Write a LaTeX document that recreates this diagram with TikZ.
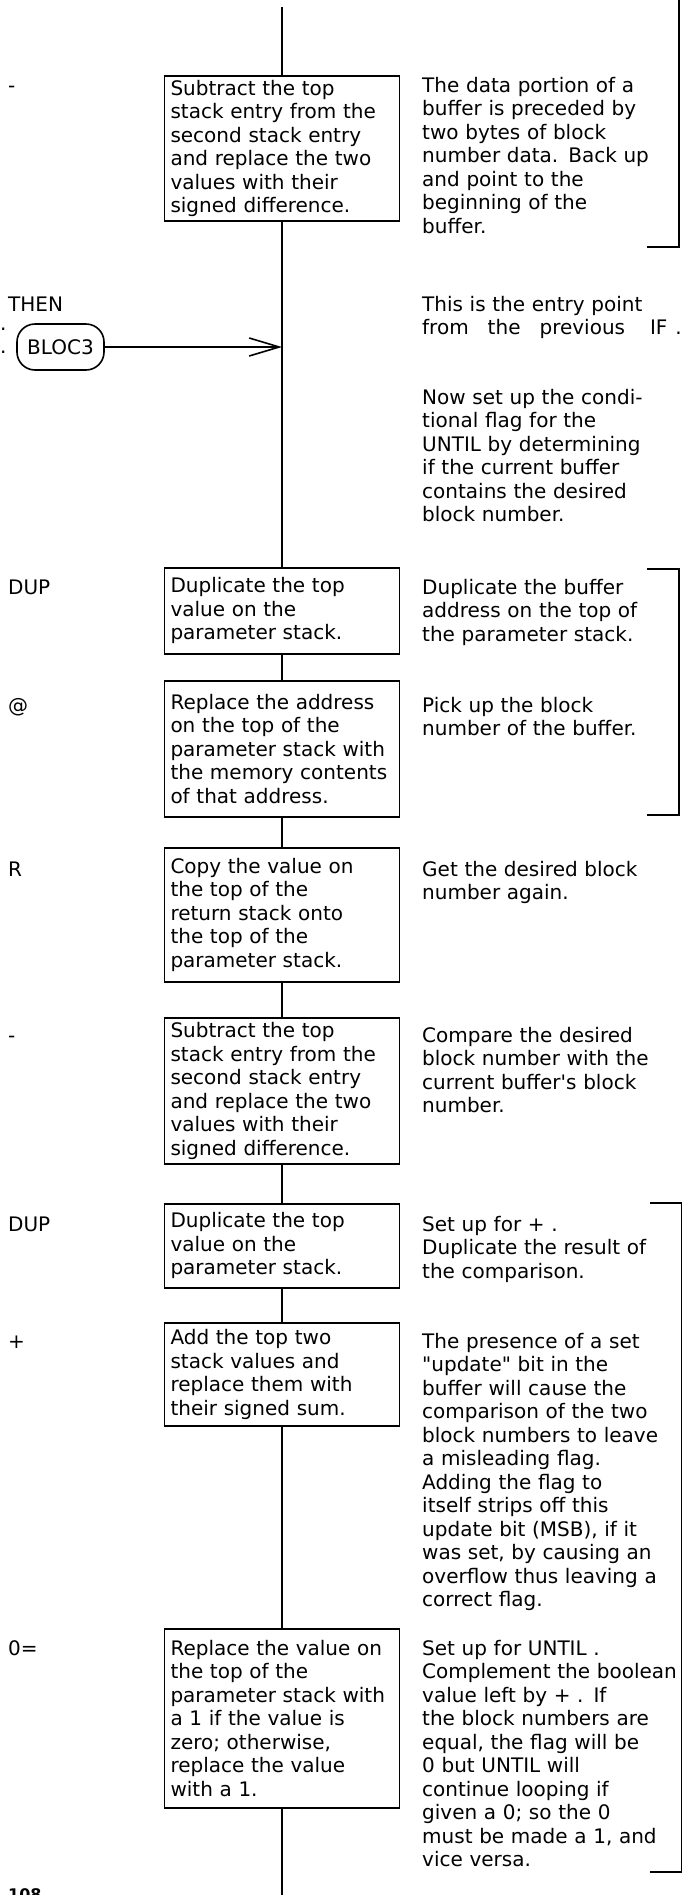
\documentclass[tikz,border=0pt]{standalone}
\usepackage{fontspec}
\setmainfont{DejaVu Sans}
\usetikzlibrary{arrows.meta}
\newcommand\flowfont{\fontsize{20pt}{23.5pt}\selectfont}

\begin{document}
\begin{tikzpicture}[x=1pt, y=-1pt, >={Straight Barb[length=30pt,width=18pt]},
  stepbox/.style={draw, line width=1.6pt, anchor=north, text width=223pt, inner xsep=6pt, inner ysep=0pt, align=left, font=\flowfont},
  note/.style={anchor=base west, inner sep=0pt, text width=262pt, align=left, font=\flowfont},
  word/.style={anchor=base west, inner sep=0pt, font=\flowfont},
  spine/.style={line width=1.4pt},
  bracket/.style={line width=1.8pt}]
  \useasboundingbox (0,0) rectangle (681,1895);
  \fill[white] (0,0) rectangle (681,1895);

  \node[stepbox, minimum height=145pt] (sub1) at (282,75) {Subtract the top\\stack entry from the\\second stack entry\\and replace the two\\values with their\\signed difference.};
  \node[stepbox, minimum height=86pt] (dup1) at (282,567) {Duplicate the top\\value on the\\parameter stack.};
  \node[stepbox, minimum height=136pt] (fetch) at (282,680) {Replace the address\\on the top of the\\parameter stack with\\the memory contents\\of that address.};
  \node[stepbox, minimum height=134pt] (copyr) at (282,847) {Copy the value on\\the top of the\\return stack onto\\the top of the\\parameter stack.};
  \node[stepbox, minimum height=146pt] (sub2) at (282,1017) {Subtract the top\\stack entry from the\\second stack entry\\and replace the two\\values with their\\signed difference.};
  \node[stepbox, minimum height=84pt] (dup2) at (282,1203) {Duplicate the top\\value on the\\parameter stack.};
  \node[stepbox, minimum height=103pt] (add) at (282,1322) {Add the top two\\stack values and\\replace them with\\their signed sum.};
  \node[stepbox, minimum height=179pt] (zeq) at (282,1628) {Replace the value on\\the top of the\\parameter stack with\\a 1 if the value is\\zero; otherwise,\\replace the value\\with a 1.};

  \node[word] (lsub1) at (8,92) {-};
  \node[word] (lthen) at (8,311) {THEN};
  \node[word, text width=8pt] (ldots) at (0,330) {.\\.};
  \node[draw, line width=1.6pt, rounded corners=18pt, minimum width=87pt, minimum height=46pt, inner sep=1pt, font=\flowfont] (bloc) at (60.5,347) {BLOC3};
  \node[word] (ldup1) at (8,594) {DUP};
  \node[word] (lfetch) at (8,712) {@};
  \node[word] (lr) at (8,876) {R};
  \node[word] (lsub2) at (8,1042) {-};
  \node[word] (ldup2) at (8,1231) {DUP};
  \node[word] (ladd) at (8,1348) {+};
  \node[word] (lzeq) at (8,1655) {0=};

  \node[note] (n1) at (422,92) {The data portion of a\\buffer is preceded by\\two bytes of block\\number data. Back up\\and point to the\\beginning of the\\buffer.};
  \node[note] (n2) at (422,311) {This is the entry point\\from\hspace{19pt}the\hspace{19pt}previous\hspace{25pt}IF\hspace{8pt}.};
  \node[note] (n3) at (422,404) {Now set up the condi-\\tional flag for the\\UNTIL by determining\\if the current buffer\\contains the desired\\block number.};
  \node[note] (n4) at (422,594) {Duplicate the buffer\\address on the top of\\the parameter stack.};
  \node[note] (n5) at (422,712) {Pick up the block\\number of the buffer.};
  \node[note] (n6) at (422,876) {Get the desired block\\number again.};
  \node[note] (n7) at (422,1042) {Compare the desired\\block number with the\\current buffer\textquotesingle s block\\number.};
  \node[note] (n8) at (422,1231) {Set up for + .\\Duplicate the result of\\the comparison.};
  \node[note] (n9) at (422,1348) {The presence of a set\\\textquotedbl update\textquotedbl\ bit in the\\buffer will cause the\\comparison of the two\\block numbers to leave\\a misleading flag.\\Adding the flag to\\itself strips off this\\update bit (MSB), if it\\was set, by causing an\\overflow thus leaving a\\correct flag.};
  \node[note] (n10) at (422,1655) {Set up for UNTIL .\\Complement the boolean\\value left by + .\hspace{10pt}If\\the block numbers are\\equal, the flag will be\\0 but UNTIL will\\continue looping if\\given a 0; so the 0\\must be made a 1, and\\vice versa.};

  \node[anchor=north west, inner sep=0pt, font=\bfseries\fontsize{16pt}{18pt}\selectfont] (page) at (8,1888) {108};

  \coordinate (spinetop) at (282,7);
  \coordinate (spineend) at (282,1900);
  \draw[spine] (spinetop) -- (sub1);
  \draw[spine] (sub1) -- (dup1);
  \draw[spine] (dup1) -- (fetch);
  \draw[spine] (fetch) -- (copyr);
  \draw[spine] (copyr) -- (sub2);
  \draw[spine] (sub2) -- (dup2);
  \draw[spine] (dup2) -- (add);
  \draw[spine] (add) -- (zeq);
  \draw[spine] (zeq) -- (spineend);
  \draw[spine, ->, line width=1.6pt] (bloc) -- (bloc -| sub1);

  \coordinate (br1top) at (679,0);
  \coordinate (br1end) at (647,247);
  \draw[bracket] (br1end) -| (br1top);
  \coordinate (br2top) at (647,569);
  \coordinate (br2end) at (647,815);
  \draw[bracket] (br2top) -- ++(32,0) |- (br2end);
  \coordinate (br3top) at (650,1203);
  \coordinate (br3end) at (650,1872);
  \draw[bracket] (br3top) -- ++(32,0) |- (br3end);
\end{tikzpicture}
\end{document}
